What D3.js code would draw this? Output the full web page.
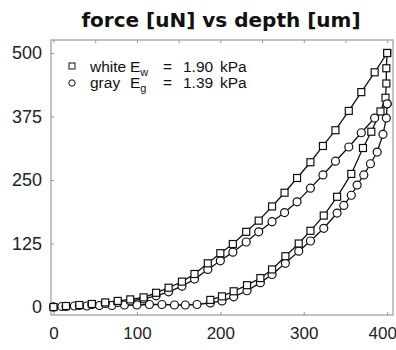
<!DOCTYPE html>
<meta charset="utf-8">
<style>
body { margin: 0; background: #fff; }
svg { display: block; }
.frame { fill: none; stroke: #999; stroke-width: 1.2px; }
.tick line { stroke: #999; }
.tick text { font-family: "Liberation Sans", sans-serif; font-size: 17px; fill: #222; }
.curve { fill: none; stroke: #111; stroke-width: 1.3px; }
.mark { fill: #fff; stroke: #111; stroke-width: 1.2px; }
.title { font-family: "DejaVu Sans", sans-serif; font-weight: bold; font-size: 20px; fill: #111; }
.legend text { font-family: "Liberation Sans", sans-serif; font-size: 15.5px; fill: #111; }
</style>
<svg width="396" height="350"></svg>
<script src="https://d3js.org/d3.v7.min.js"></script>
<script>

// depth [um] -> force [uN]
var whiteLoadDepth = [0, 15, 31, 46, 62, 77, 92, 108, 123, 138, 154, 169, 185, 200, 215, 231, 246, 262, 277, 292, 308, 323, 338, 354, 369, 385, 400];
var whiteLoadForce = [0, 2, 4, 6, 9, 12, 15, 19, 28, 38, 50, 65, 86, 106, 124, 148, 170, 198, 225, 254, 285, 317, 348, 386, 423, 462, 500];

var grayLoadDepth = [0, 15, 31, 46, 62, 77, 92, 108, 123, 138, 154, 169, 185, 200, 215, 231, 246, 262, 277, 292, 308, 323, 338, 354, 369, 385, 400];
var grayLoadForce = [0, 1, 3, 5, 7, 9, 12, 16, 22, 30, 41, 55, 74, 91, 108, 128, 148, 168, 186, 207, 234, 260, 287, 315, 343, 372, 400];

var whiteUnloadDepth = [400, 399, 399, 398, 392, 381, 371, 357, 340, 324, 308, 294, 278, 262, 248, 232, 216, 202, 188];
var whiteUnloadForce = [500, 470, 440, 412, 385, 345, 313, 262, 217, 180, 150, 125, 100, 74, 57, 43, 31, 21, 14];

var grayUnloadDepth = [400, 399, 395, 388, 380, 372, 364, 357, 348, 340, 324, 308, 294, 278, 262, 248, 232, 216, 202, 188, 172, 158, 145, 130, 115, 100, 85, 70, 55, 40, 25, 10, 0];
var grayUnloadForce = [400, 372, 340, 305, 282, 260, 240, 220, 200, 185, 155, 130, 110, 86, 64, 48, 32, 20, 12, 8, 5, 4, 4, 5, 5, 4, 4, 3, 3, 2, 2, 1, 0];

var xTicks = [0, 100, 200, 300, 400];
var xMinorTicks = [0, 50, 100, 150, 200, 250, 300, 350, 400];
var yTicks = [0, 125, 250, 375, 500];

var svg = d3.select("svg");

var x = d3.scaleLinear().domain([-3, 407]).range([51, 393]);
var y = d3.scaleLinear().domain([-15.7, 525.6]).range([315, 40]);

svg.append("text")
    .attr("class", "title")
    .attr("x", 221)
    .attr("y", 27)
    .attr("text-anchor", "middle")
    .text("force [uN] vs depth [um]");

svg.append("rect")
    .attr("class", "frame")
    .attr("x", 51).attr("y", 40)
    .attr("width", 342).attr("height", 275);

// axes
var gx = svg.append("g")
    .attr("transform", "translate(0,315)")
    .call(d3.axisBottom(x).tickValues(xTicks).tickSizeInner(-3).tickSizeOuter(0).tickPadding(12).tickFormat(d3.format("d")));
gx.select(".domain").remove();
gx.selectAll(".tick text").filter(d => d == 400).attr("dx", -5);

var gxMinor = svg.append("g")
    .attr("transform", "translate(0,40)")
    .call(d3.axisTop(x).tickValues(xMinorTicks).tickSizeInner(-3).tickSizeOuter(0).tickFormat(""));
gxMinor.select(".domain").remove();

var gy = svg.append("g")
    .attr("transform", "translate(51,0)")
    .call(d3.axisLeft(y).tickValues(yTicks).tickSizeInner(-3).tickSizeOuter(0).tickPadding(9).tickFormat(d3.format("d")));
gy.select(".domain").remove();
gy.selectAll("text").style("font-size", "18px");

var line = d3.line().x(d => x(d[0])).y(d => y(d[1]));

function pairs(ds, fs) { return ds.map((d, i) => [d, fs[i]]); }

var series = [
  {pts: pairs(grayUnloadDepth, grayUnloadForce), shape: "circle"},
  {pts: pairs(whiteUnloadDepth, whiteUnloadForce), shape: "square"},
  {pts: pairs(grayLoadDepth, grayLoadForce), shape: "circle"},
  {pts: pairs(whiteLoadDepth, whiteLoadForce), shape: "square"}
];

series.forEach(function(s) {
  svg.append("path").attr("class", "curve").attr("d", line(s.pts));
});

series.forEach(function(s) {
  var g = svg.append("g");
  if (s.shape == "circle") {
    g.selectAll("circle").data(s.pts).enter().append("circle")
      .attr("class", "mark")
      .attr("cx", d => x(d[0]))
      .attr("cy", d => y(d[1]))
      .attr("r", 4);
  } else {
    g.selectAll("rect").data(s.pts).enter().append("rect")
      .attr("class", "mark")
      .attr("x", d => x(d[0]) - 3.5)
      .attr("y", d => y(d[1]) - 3.5)
      .attr("width", 7).attr("height", 7);
  }
});

// legend
var leg = svg.append("g").attr("class", "legend");
leg.append("rect").attr("class", "mark").attr("x", 69).attr("y", 63).attr("width", 6).attr("height", 6).style("stroke-width", 1);
leg.append("circle").attr("class", "mark").attr("cx", 72).attr("cy", 83).attr("r", 3.2).style("stroke-width", 1);

var rows = [
  {y: 72, name: "white", sub: "w", val: "1.90"},
  {y: 88, name: "gray", sub: "g", val: "1.39"}
];
rows.forEach(function(r) {
  var t = leg.append("text").attr("x", 90).attr("y", r.y);
  t.append("tspan").text(r.name);
  t.append("tspan").attr("x", 130).text("E");
  t.append("tspan").attr("dy", 4).style("font-size", "11px").text(r.sub);
  t.append("tspan").attr("x", 163).attr("dy", -4).text("=");
  t.append("tspan").attr("x", 183).text(r.val);
  t.append("tspan").attr("x", 220).text("kPa");
});

</script>
